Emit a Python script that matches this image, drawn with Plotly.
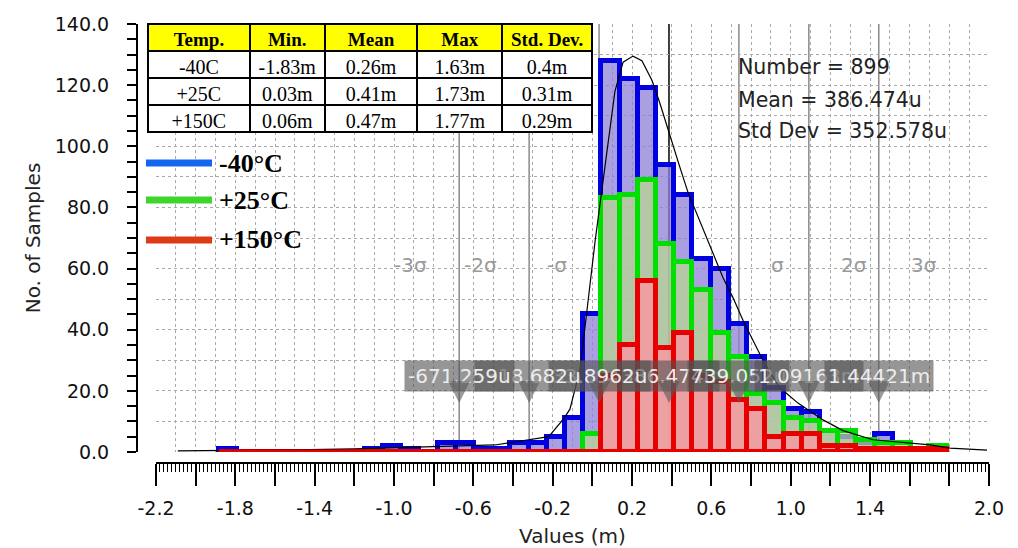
import numpy as np
import plotly.graph_objects as go

# ---- histogram data (shared bins, values in m) ----
bin_start = -1.8819
bin_width = 0.0918
counts_m40 = [1, 0, 0, 0, 0, 0, 0, 0, 1, 2, 1, 0, 3, 3, 1, 1, 3, 3, 5, 11,
              45, 128, 122, 119, 94, 84, 63, 60, 42, 31, 21, 14, 13, 7, 5, 3, 6, 1, 1, 0]
counts_p25 = [0] * 20 + [6, 83, 84, 89, 68, 62, 53, 39, 31, 19, 16, 11, 10, 7, 7, 4, 3, 3, 1, 2]
counts_p150 = [0] * 21 + [25, 35, 56, 34, 39, 25, 23, 17, 14, 5, 6, 6, 2, 2, 1, 1, 1, 1, 1]

# fitted density curve
curve_x = [-2.09, -1.8, -1.5, -1.2, -0.84, -0.49, -0.22, -0.143, -0.113, -0.062, 0.014, 0.069,
           0.114, 0.155, 0.205, 0.250, 0.301, 0.341, 0.392, 0.442, 0.482, 0.583, 0.659, 0.709,
           0.760, 0.845, 0.896, 0.946, 1.037, 1.163, 1.264, 1.415, 1.587, 1.703, 1.804, 1.93, 1.99]
curve_y = [0.4, 0.5, 0.7, 1.0, 1.7, 2.3, 5, 11, 14, 27, 69, 96,
           118, 127.5, 129.5, 128, 121.5, 114, 103, 93, 85, 69, 57, 50.5,
           43, 32, 26, 21, 16, 10.5, 7, 4, 3, 2.3, 1.3, 0.8, 0.6]

# summary statistics
sample_number = 899
mean_m = 0.386474
std_m = 0.3525778
sigma_steps = [-3, -2, -1, 0, 1, 2, 3]
sigma_names = ["-3σ", "-2σ", "-σ", "", "σ", "2σ", "3σ"]

# table
table_header = ["Temp.", "Min.", "Mean", "Max", "Std.\u00a0Dev."]
table_temp = ["-40C", "+25C", "+150C"]
table_min = ["-1.83m", "0.03m", "0.06m"]
table_mean = ["0.26m", "0.41m", "0.47m"]
table_max = ["1.63m", "1.73m", "1.77m"]
table_std = ["0.4m", "0.31m", "0.29m"]

legend_labels = ["-40°C", "+25°C", "+150°C"]
x_tick_labels = ["-2.2", "-1.8", "-1.4", "-1.0", "-0.6", "-0.2", "0.2", "0.6", "1.0", "1.4", "2.0"]

# ---- geometry helpers ----
W, H = 1018, 548
ML, MR, MT, MB = 137, 18, 24, 85
PW, PH = W - ML - MR, H - MT - MB


def px_x(px):
    return (px - ML) / PW


def px_y(py):
    return (H - MB - py) / PH


edges = bin_start + bin_width * np.arange(len(counts_m40) + 1)
centers = (edges[:-1] + edges[1:]) / 2

SANS = "DejaVu Sans"
SERIF = "Liberation Serif"

fig = go.Figure()

# density curve (under the bars)
fig.add_trace(go.Scatter(x=curve_x, y=curve_y, mode="lines",
                         line=dict(color="black", width=1.2), hoverinfo="skip"))

series = [
    (counts_m40, "rgba(142,128,215,0.75)", "#0000e0"),
    (counts_p25, "rgba(183,213,145,0.75)", "#00e000"),
    (counts_p150, "rgba(255,147,159,0.75)", "#e60000"),
]
for counts, fill, edge in series:
    fig.add_trace(go.Bar(x=centers, y=counts, width=bin_width,
                         marker=dict(color=fill, line=dict(color=edge, width=5)),
                         hoverinfo="skip"))

# red baseline across all bins
fig.add_trace(go.Scatter(x=[edges[0], edges[-1]], y=[0, 0], mode="lines",
                         line=dict(color="#e60000", width=5), hoverinfo="skip"))

# carrier for the grid axes
fig.add_trace(go.Scatter(x=[], y=[], xaxis="x2", yaxis="y2", hoverinfo="skip"))

# summary table
fig.add_trace(go.Table(
    domain=dict(x=[px_x(148), px_x(593)], y=[px_y(160), 1.0]),
    columnwidth=[102, 75, 93, 85, 90],
    header=dict(values=table_header, fill_color="#ffff00",
                line=dict(color="black", width=2), height=27, align="center",
                font=dict(family=SERIF, size=19, color="black", weight="bold")),
    cells=dict(values=[table_temp, table_min, table_mean, table_max, table_std],
               fill_color="white", line=dict(color="black", width=2), height=27,
               align="center", font=dict(family=SERIF, size=20, color="black")),
))

# ruler ticks
major_vals = np.round(np.arange(-2.2, 2.0001, 0.2), 1)
major_text = [f"{v:.1f}" if f"{v:.1f}" in x_tick_labels else "" for v in major_vals]

# sigma / mean lines, labels and callouts
shapes = []
annotations = []
line_vals = [mean_m + k * std_m for k in sigma_steps]
for k, v in zip(sigma_steps, line_vals):
    shapes.append(dict(type="line", xref="x", yref="y domain", x0=v, x1=v, y0=0, y1=1,
                       layer="below",
                       line=dict(color="black" if k == 0 else "#8a8a8a", width=1.5)))
for k, v, name in zip(sigma_steps, line_vals, sigma_names):
    if k == 0:
        continue
    annotations.append(dict(x=v, xref="x", y=(452 - 265) / 428, yref="y domain",
                            text=name, showarrow=False,
                            xanchor="right" if k < 0 else "left",
                            xshift=-30 if k < 0 else 30,
                            font=dict(family=SANS, size=20, color="#9a9a9a")))


def fmt(v):
    return f"{v * 1000:.6g}u" if abs(v) < 1 else f"{v:.6g}m"


for k in [0, -1, 1, -2, 2, -3, 3]:
    v = mean_m + k * std_m
    annotations.append(dict(x=v, xref="x", y=(452 - 403) / 428, yref="y domain",
                            text=fmt(v), showarrow=True, ax=0, ay=-27,
                            arrowhead=2, arrowsize=2.2, arrowwidth=2,
                            arrowcolor="rgba(90,90,90,0.6)", standoff=0,
                            bgcolor="rgba(80,80,80,0.6)", borderpad=3,
                            font=dict(family=SANS, size=20, color="#ececec")))

# statistics text
stats = [f"Number = {sample_number}", f"Mean = {mean_m * 1000:.6g}u", f"Std Dev = {std_m * 1000:.6g}u"]
for txt, py in zip(stats, [67, 100, 131]):
    annotations.append(dict(x=px_x(736), y=px_y(py), xref="paper", yref="paper",
                            text=txt, showarrow=False, xanchor="left", yanchor="middle",
                            font=dict(family=SANS, size=20.5, color="#222")))

# legend keys
legend_colors = ["#1466f0", "#3ed62a", "#dc3c14"]
for lab, col, py in zip(legend_labels, legend_colors, [163, 200, 240]):
    shapes.append(dict(type="line", xref="paper", yref="paper",
                       x0=px_x(146), x1=px_x(212), y0=px_y(py), y1=px_y(py),
                       line=dict(color=col, width=7)))
    annotations.append(dict(x=px_x(217), y=px_y(py), xref="paper", yref="paper",
                            text=f"<b>{lab}</b>", showarrow=False, xanchor="left",
                            yanchor="middle", font=dict(family=SERIF, size=26, color="black")))

grid_style = dict(showgrid=True, gridcolor="#a9a9a9", griddash="dot", gridwidth=1,
                  showticklabels=False, ticks="", showline=False, zeroline=False)

fig.update_layout(
    width=W, height=H,
    margin=dict(l=ML, r=MR, t=MT, b=MB, autoexpand=False),
    paper_bgcolor="white", plot_bgcolor="white",
    barmode="overlay", bargap=0, showlegend=False,
    xaxis=dict(domain=[px_x(156), px_x(989)], range=[-2.2, 2.0], anchor="free", position=0,
               showline=True, linecolor="black", linewidth=2,
               tickmode="array", tickvals=major_vals, ticktext=major_text,
               ticks="outside", ticklen=22, tickwidth=2, tickcolor="black",
               minor=dict(ticks="outside", dtick=0.02, tick0=-2.2, ticklen=8,
                          tickwidth=1, tickcolor="black", showgrid=False),
               tickfont=dict(family=SANS, size=19, color="#111"), ticklabelstandoff=6,
               showgrid=False, zeroline=False,
               title=dict(text="Values (m)", font=dict(family=SANS, size=20, color="#222"),
                          standoff=10)),
    yaxis=dict(domain=[px_y(452), 1], range=[0, 140], anchor="free", position=0,
               showline=True, linecolor="black", linewidth=2,
               dtick=20, tickformat=".1f",
               ticks="outside", ticklen=9, tickwidth=2, tickcolor="black",
               minor=dict(ticks="outside", dtick=5, ticklen=9, tickwidth=1.5,
                          tickcolor="black", showgrid=False),
               tickfont=dict(family=SANS, size=19, color="#111"), ticklabelstandoff=14,
               showgrid=False, zeroline=False,
               title=dict(text="No. of Samples", font=dict(family=SANS, size=20, color="#222"),
                          standoff=8)),
    xaxis2=dict(overlaying="x", anchor="y2", range=[-2.2, 2.0], tick0=0, dtick=0.1, **grid_style),
    yaxis2=dict(overlaying="y", anchor="x2", range=[0, 140], tick0=0, dtick=10, **grid_style),
    shapes=shapes,
    annotations=annotations,
)

fig.write_html("out.html")
